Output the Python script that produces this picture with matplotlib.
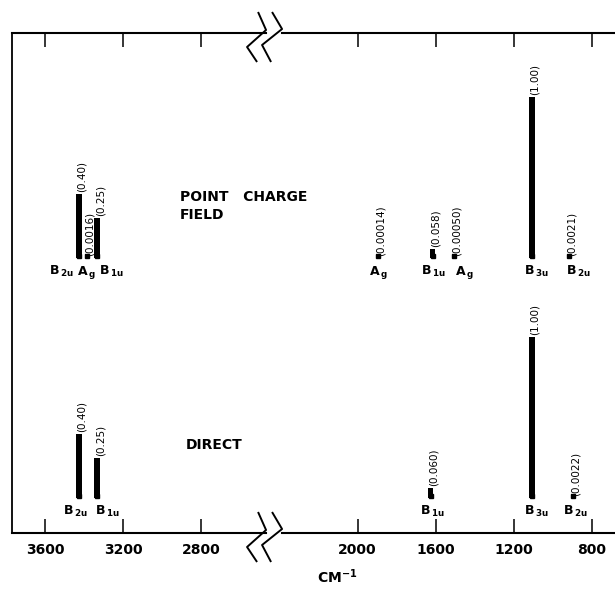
import matplotlib.pyplot as plt
import numpy as np

plt.rcParams['font.family'] = 'DejaVu Sans'
plt.rcParams['mathtext.fontset'] = 'dejavusans'

# band positions (cm-1), relative intensities, symmetry species
pc_freq = [3426, 3385, 3333, 1897, 1615, 1508, 1108, 918]
pc_int = ['0.40', '0.0016', '0.25', '0.00014', '0.058', '0.00050', '1.00', '0.0021']
pc_sym = ['B2u', 'Ag', 'B1u', 'Ag', 'B1u', 'Ag', 'B3u', 'B2u']

dir_freq = [3426, 3333, 1626, 1108, 898]
dir_int = ['0.40', '0.25', '0.060', '1.00', '0.0022']
dir_sym = ['B2u', 'B1u', 'B1u', 'B3u', 'B2u']

tick_vals = [3600, 3200, 2800, 2000, 1600, 1200, 800]

# sideways nudges (px) for the species labels where they crowd
pc_dx = [-18, -1, 14, 1, 1, 11, 5, 9]
dir_dx = [-4, 10, 2, 5, 3]

XL, XR = 3769, 682
BREAK = 2430
SCALE = 161          # px for intensity 1.00
W, H = 615, 590

fig = plt.figure(figsize=(W / 100, H / 100), dpi=100)
ax = fig.add_axes([12 / W, 57 / H, 603 / W, 500 / H])
ax.set_xlim(XL, XR)
ax.set_ylim(0, 500)
upp = (XL - XR) / 603.0   # cm-1 per pixel


def species(s):
    return r'$\mathbf{%s}_{\,\mathbf{%s}}$' % (s[0], s[1:])


def panel(freq, ints, syms, dxs, base):
    h = np.array([float(v) for v in ints]) * SCALE
    ax.bar(freq, h, bottom=base, width=28, color='black', linewidth=0)
    ax.plot(freq, [base + 2] * len(freq), 's', ms=2.4, color='black')
    for f, hh, s in zip(freq, h, ints):
        ax.annotate('(%s)' % s, xy=(f, base + hh), xytext=(3, 2),
                    textcoords='offset pixels', rotation=90,
                    ha='center', va='bottom', fontsize=7.5)
    for f, s, dx in zip(freq, syms, dxs):
        ax.annotate(species(s), xy=(f, base), xytext=(dx, -6),
                    textcoords='offset pixels', ha='center', va='top',
                    fontsize=9)


panel(pc_freq, pc_int, pc_sym, pc_dx, 275)
panel(dir_freq, dir_int, dir_sym, dir_dx, 35)

ax.text(2909, 327, 'POINT   CHARGE\nFIELD', fontsize=10, fontweight='bold',
        ha='left', va='center', linespacing=1.45)
ax.text(2878, 88, 'DIRECT', fontsize=10, fontweight='bold',
        ha='left', va='center')

# frame: left spine only, top and bottom drawn with the break
for side in ['top', 'bottom', 'right']:
    ax.spines[side].set_visible(False)
ax.spines['left'].set_linewidth(1.3)
ax.set_yticks([])

zig_l = [(-15.5, 21), (-7.5, 3), (-26.5, -14), (-16.5, -29)]
zig_r = [(-1.5, 21), (8.5, 4), (-11.5, -12), (-2.5, -29)]
for y0 in [500, 0]:
    ax.plot([XL, BREAK + 7.5 * upp], [y0, y0], color='black', lw=1.5, clip_on=False)
    ax.plot([BREAK - 8.5 * upp, XR - 20 * upp], [y0, y0], color='black', lw=1.5,
            clip_on=False)
    for zig in [zig_l, zig_r]:
        zx = [BREAK - dx * upp for dx, dy in zig]
        zy = [y0 + dy for dx, dy in zig]
        ax.plot(zx, zy, color='black', lw=1.4, clip_on=False,
                solid_capstyle='butt')

ax.set_xticks(tick_vals)
ax.tick_params(axis='x', direction='in', top=True, bottom=True, length=10,
               width=1.1, labelsize=10, pad=7)
for lab in ax.get_xticklabels():
    lab.set_fontweight('bold')

fig.text(317 / W, 1 - 577 / H, r'CM$^{\mathbf{-1}}$', fontsize=10,
         fontweight='bold', ha='left', va='center')

fig.savefig('out.png', dpi=100)
